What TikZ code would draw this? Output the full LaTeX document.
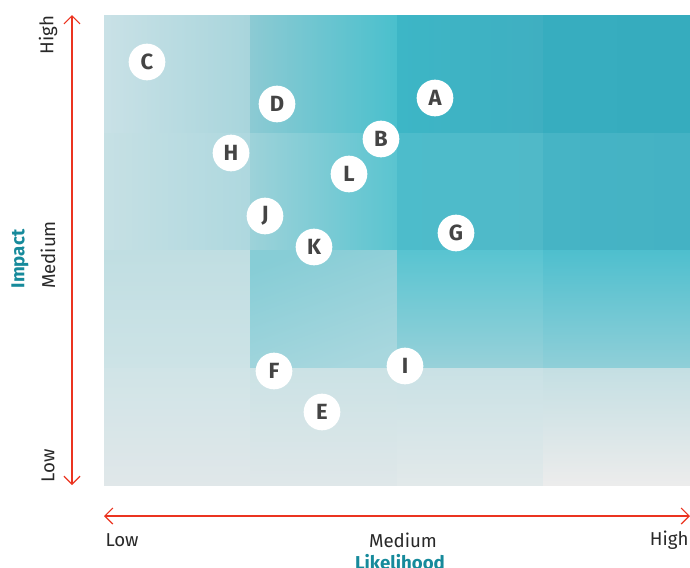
\documentclass[tikz,border=0pt]{standalone}
\usepackage{fontspec}
\setmainfont{Fira Sans}
\usetikzlibrary{arrows.meta}

\tikzset{every picture/.style={line width=0.75pt}}
\tikzset{
  riskdot/.style={circle, fill=white, inner sep=0pt, minimum size=27.5pt,
    text={rgb,255:red,68;green,68;blue,68}, font=\fontsize{16.5}{16.5}\selectfont\bfseries},
  axisline/.style={draw={rgb,255:red,235;green,52;blue,32}, line width=0.9pt,
    {Straight Barb[length=6pt,width=12pt]}-{Straight Barb[length=6pt,width=12pt]}},
  axislab/.style={inner sep=0.75pt, text={rgb,255:red,40;green,40;blue,40},
    font=\fontsize{14}{14}\selectfont},
  axistitle/.style={inner sep=0.75pt, text={rgb,255:red,22;green,138;blue,155},
    font=\fontsize{14}{14}\selectfont\bfseries}
}

\begin{document}
\begin{tikzpicture}[x=0.75pt,y=0.75pt,yscale=-1,xscale=1]
    \useasboundingbox (0,0) rectangle (690,568);
    %Shape: Rectangle  row 1 (high impact)
    \fill [left color={rgb,255:red,201;green,225;blue,230}, right color={rgb,255:red,168;green,213;blue,220}] (104,15) rectangle (250,133);
    \fill [left color={rgb,255:red,140;green,202;blue,211}, right color={rgb,255:red,74;green,192;blue,205}] (250,15) rectangle (397,133);
    \fill [left color={rgb,255:red,61;green,182;blue,198}, right color={rgb,255:red,63;green,175;blue,193}] (397,15) rectangle (543,133);
    \fill [left color={rgb,255:red,55;green,173;blue,191}, right color={rgb,255:red,54;green,172;blue,190}] (543,15) rectangle (690,133);
    %Shape: Rectangle  row 2
    \fill [left color={rgb,255:red,198;green,224;blue,228}, right color={rgb,255:red,174;green,216;blue,223}] (104,133) rectangle (250,250);
    \fill [left color={rgb,255:red,157;green,210;blue,217}, right color={rgb,255:red,90;green,196;blue,208}] (250,133) rectangle (397,250);
    \fill [left color={rgb,255:red,77;green,188;blue,203}, right color={rgb,255:red,80;green,185;blue,200}] (397,133) rectangle (543,250);
    \fill [left color={rgb,255:red,70;green,180;blue,197}, right color={rgb,255:red,68;green,178;blue,196}] (543,133) rectangle (690,250);
    %Shape: Rectangle  row 3
    \fill [top color={rgb,255:red,192;green,222;blue,226}, bottom color={rgb,255:red,205;green,227;blue,230}] (104,250) rectangle (250,368);
    \fill [top color={rgb,255:red,135;green,205;blue,214}, bottom color={rgb,255:red,168;green,215;blue,222}, shading angle=20] (250,250) rectangle (397,368);
    \fill [top color={rgb,255:red,88;green,196;blue,209}, bottom color={rgb,255:red,152;green,209;blue,217}] (397,250) rectangle (543,368);
    \fill [top color={rgb,255:red,78;green,191;blue,206}, bottom color={rgb,255:red,144;green,207;blue,216}] (543,250) rectangle (690,368);
    %Shape: Rectangle  row 4 (low impact)
    \fill [top color={rgb,255:red,208;green,228;blue,231}, bottom color={rgb,255:red,224;green,231;blue,233}] (104,368) rectangle (250,485);
    \fill [top color={rgb,255:red,203;green,226;blue,229}, bottom color={rgb,255:red,223;green,231;blue,233}] (250,368) rectangle (397,485);
    \fill [top color={rgb,255:red,201;green,225;blue,229}, bottom color={rgb,255:red,226;green,233;blue,234}] (397,368) rectangle (543,485);
    \fill [top color={rgb,255:red,196;green,223;blue,227}, bottom color={rgb,255:red,236;green,236;blue,236}] (543,368) rectangle (690,485);

    % Risk markers
    \node [riskdot] (C) at (147,62) {C};
    \node [riskdot] (D) at (277,104) {D};
    \node [riskdot] (A) at (435,98) {A};
    \node [riskdot] (B) at (381,139) {B};
    \node [riskdot] (H) at (231,153) {H};
    \node [riskdot] (L) at (349,174) {L};
    \node [riskdot] (J) at (265,216) {J};
    \node [riskdot] (K) at (314,247) {K};
    \node [riskdot] (G) at (456,233) {G};
    \node [riskdot] (F) at (274,371) {F};
    \node [riskdot] (I) at (405,366) {I};
    \node [riskdot] (E) at (322,412) {E};

    % Axes
    \coordinate (impLow) at (72,485);
    \coordinate (impHigh) at (72,15);
    \coordinate (likLow) at (104,516);
    \coordinate (likHigh) at (690,516);
    \draw [axisline] (impLow) -- (impHigh);
    \draw [axisline] (likLow) -- (likHigh);

    % Text Node
    \node [axislab, rotate=90] (tImpHigh) at (48,35) {High};
    \node [axislab, rotate=90] (tImpMed) at (48,255) {Medium};
    \node [axislab, rotate=90] (tImpLow) at (48,466) {Low};
    \node [axistitle, rotate=90] (tImpact) at (20,259) {Impact};
    % Text Node
    \node [axislab, anchor=west] (tLikLow) at (104,540) {Low};
    \node [axislab] (tLikMed) at (403,540) {Medium};
    \node [axislab, anchor=east] (tLikHigh) at (690,540) {High};
    \node [axistitle] (tLikelihood) at (400,562) {Likelihood};
\end{tikzpicture}
\end{document}
